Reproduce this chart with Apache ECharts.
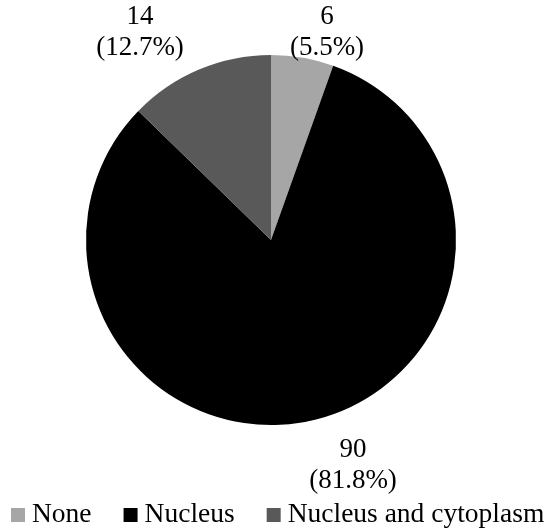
<!DOCTYPE html>
<html>
<head>
<meta charset="utf-8">
<script src="https://cdn.jsdelivr.net/npm/echarts@6/dist/echarts.min.js"></script>
<style>
html,body{margin:0;padding:0;background:#fff;}
#chart{width:550px;height:531px;}
</style>
</head>
<body>
<div id="chart"></div>
<script>
const categories = ['None', 'Nucleus', 'Nucleus and cytoplasm'];
const counts = [6, 90, 14];
const sliceColors = ['#a6a6a6', '#000000', '#595959'];
// label anchor positions (text placement only)
const labelAnchors = [[327, 32], [353, 465], [140, 32]];

const chart = echarts.init(document.getElementById('chart'), null, {renderer: 'canvas'});
const font = '"Liberation Serif", "Times New Roman", serif';
chart.setOption({
  animation: false,
  backgroundColor: '#ffffff',
  legend: {
    data: categories,
    left: 6,
    top: 496,
    width: 548,
    icon: 'rect',
    itemWidth: 14,
    itemHeight: 14,
    itemGap: 32,
    textStyle: {fontFamily: font, fontSize: 27.5, color: '#000', lineHeight: 28, padding: [0, 0, 0, 2]}
  },
  series: [{
    type: 'pie',
    center: [271, 240],
    radius: 185,
    startAngle: 90,
    clockwise: true,
    percentPrecision: 1,
    data: categories.map((c, i) => ({name: c, value: counts[i], itemStyle: {color: sliceColors[i]}})),
    itemStyle: {borderWidth: 0},
    label: {
      show: true,
      position: 'outside',
      formatter: '{c}\n({d}%)',
      fontFamily: font,
      fontSize: 27,
      lineHeight: 31,
      color: '#000',
      align: 'center'
    },
    labelLine: {show: false},
    labelLayout: function (params) {
      const p = labelAnchors[params.dataIndex];
      return {x: p[0], y: p[1], align: 'center', verticalAlign: 'middle'};
    },
    emphasis: {disabled: true}
  }]
});
</script>
</body>
</html>
